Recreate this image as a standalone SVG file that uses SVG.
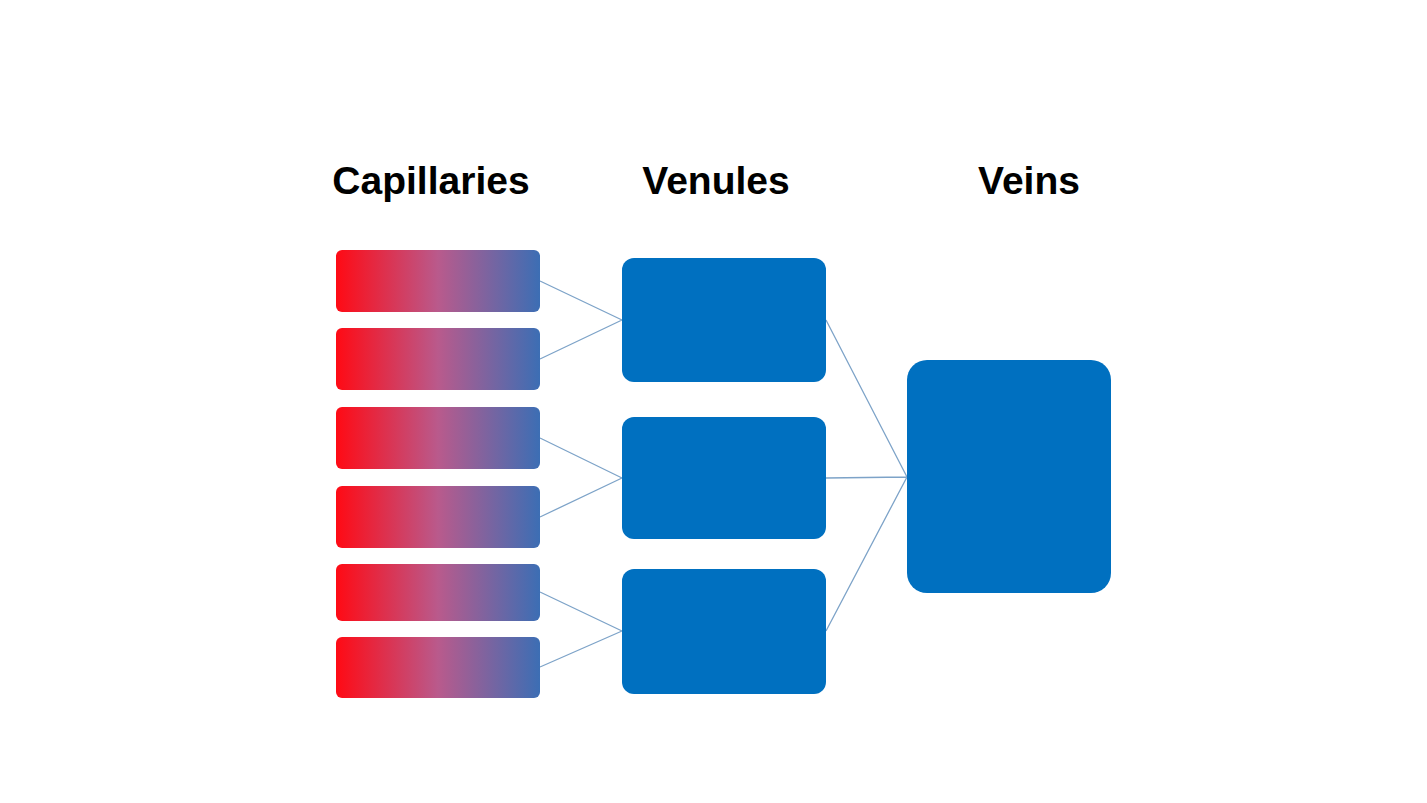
<svg xmlns="http://www.w3.org/2000/svg" width="1427" height="803" viewBox="0 0 1427 803">
<defs>
<linearGradient id="g" x1="0" x2="1" y1="0" y2="0">
<stop offset="0" stop-color="#ff0a14"/><stop offset="0.5" stop-color="#b95a8c"/><stop offset="1" stop-color="#3c6eb4"/>
</linearGradient>
</defs>
<style>
.t{font-family:"Liberation Sans",Arial,sans-serif;font-weight:bold;font-size:39px;fill:#000;text-anchor:middle}
.c{fill:url(#g)}
.b{fill:#0070c0}
.l{stroke:#7da3c8;stroke-width:1.3;fill:none}
</style>
<rect width="1427" height="803" fill="#fff"/>
<g id="titles">
<text class="t" x="431" y="194">Capillaries</text>
<text class="t" x="716" y="194">Venules</text>
<text class="t" x="1029" y="194">Veins</text>
</g>
<g id="connectors">
<path class="l" d="M540 281L622 320M540 359L622 320M540 438L622 478M540 517L622 478M540 592L622 631M540 667L622 631M826 320L907 477M826 478L907 477M826 631L907 477"/>
</g>
<g id="cap1"><rect class="c" x="336" y="250" width="204" height="62" rx="6"/></g>
<g id="cap2"><rect class="c" x="336" y="328" width="204" height="62" rx="6"/></g>
<g id="cap3"><rect class="c" x="336" y="407" width="204" height="62" rx="6"/></g>
<g id="cap4"><rect class="c" x="336" y="486" width="204" height="62" rx="6"/></g>
<g id="cap5"><rect class="c" x="336" y="564" width="204" height="57" rx="6"/></g>
<g id="cap6"><rect class="c" x="336" y="637" width="204" height="61" rx="6"/></g>
<g id="venule1"><rect class="b" x="622" y="258" width="204" height="124" rx="12"/></g>
<g id="venule2"><rect class="b" x="622" y="417" width="204" height="122" rx="12"/></g>
<g id="venule3"><rect class="b" x="622" y="569" width="204" height="125" rx="12"/></g>
<g id="vein"><rect class="b" x="907" y="360" width="204" height="233" rx="20"/></g>
</svg>
